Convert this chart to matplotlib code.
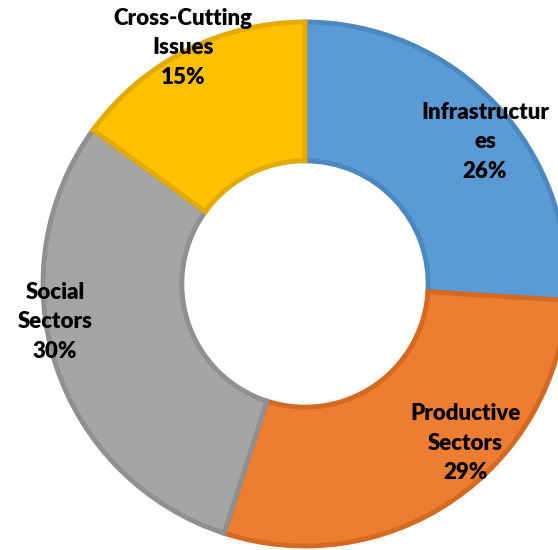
import matplotlib.pyplot as plt

labels = ['Infrastructur\nes', 'Productive\nSectors', 'Social\nSectors', 'Cross-Cutting\nIssues']
shares = [26, 29, 30, 15]
colors = ['#5B9BD5', '#ED7D31', '#A5A5A5', '#FFC000']
edges = ['#4C88C0', '#D46A22', '#909090', '#E3AA00']

# where the labels sit (data units, donut radius = 1)
label_xy = [(0.687, 0.542), (0.611, -0.607), (-0.954, -0.145), (-0.466, 0.901)]

fig = plt.figure(figsize=(5.58, 5.5), dpi=100)
ax = fig.add_axes([0, 0, 1, 1])

wedges, texts = ax.pie(shares, labels=[f'{l}\n{s}%' for l, s in zip(labels, shares)],
                       colors=colors, startangle=90, counterclock=False,
                       wedgeprops=dict(width=0.53, linewidth=3.5),
                       textprops=dict(fontsize=16, fontweight='heavy', family='Lato',
                                      ha='center', va='center', linespacing=1.5))
for w, ec in zip(wedges, edges):
    w.set_edgecolor(ec)
for t, xy in zip(texts, label_xy):
    t.set_position(xy)
    t.set_ha('center')
    t.set_va('center')

ax.set_xlim(-305 / 262, 253 / 262)
ax.set_ylim(-266 / 262, 284 / 262)
ax.set_aspect('auto')
ax.axis('off')

fig.savefig('out.png', dpi=100)
